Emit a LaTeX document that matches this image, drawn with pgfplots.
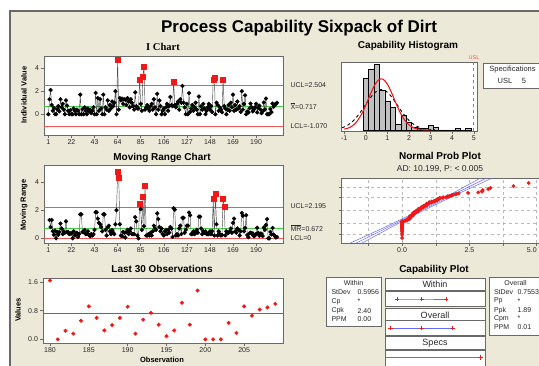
\documentclass[border=0pt]{standalone}
\usepackage{pgfplots}
\usepackage{pgfplotstable}
\pgfplotsset{compat=1.18}
\usepackage{fontspec}
\setmainfont{Liberation Sans}
\newfontfamily\titleserif{Liberation Serif}

\definecolor{panel}{RGB}{236,233,216}
\definecolor{edge}{RGB}{105,105,105}
\definecolor{limred}{RGB}{245,85,85}
\definecolor{ctrgreen}{RGB}{70,205,70}
\definecolor{ptred}{RGB}{240,25,25}
\definecolor{barfill}{RGB}{192,192,192}
\definecolor{fitblue}{RGB}{105,105,245}
\definecolor{linkgray}{RGB}{80,80,80}
\definecolor{txt}{RGB}{40,40,40}

\newcommand\fs[1]{\fontsize{#1}{#1}\selectfont}

% individual measurements (observation, value)
\pgfplotstableread[row sep=\\]{
obs val\\
1 0.00\\ 2 1.30\\ 3 2.10\\ 4 0.80\\ 5 0.30\\ 6 0.55\\ 7 0.00\\ 8 0.00\\ 9 0.45\\ 10 0.70\\
11 0.25\\ 12 1.30\\ 13 0.60\\ 14 0.90\\ 15 0.40\\ 16 0.00\\ 17 1.20\\ 18 0.75\\ 19 0.30\\ 20 0.00\\
21 0.35\\ 22 0.00\\ 23 0.00\\ 24 0.50\\ 25 0.30\\ 26 0.00\\ 27 0.40\\ 28 0.30\\ 29 0.00\\ 30 1.70\\
31 0.00\\ 32 0.45\\ 33 0.00\\ 34 0.60\\ 35 0.30\\ 36 0.00\\ 37 0.50\\ 38 0.25\\ 39 0.40\\ 40 0.10\\
41 0.30\\ 42 0.60\\ 43 0.00\\ 44 1.85\\ 45 0.00\\ 46 1.40\\ 47 0.30\\ 48 1.30\\ 49 0.50\\ 50 0.00\\
51 1.70\\ 52 0.00\\ 53 0.60\\ 54 0.40\\ 55 1.20\\ 56 0.30\\ 57 0.80\\ 58 0.50\\ 59 1.10\\ 60 0.70\\
61 1.00\\ 62 2.00\\ 63 0.00\\ 64 4.70\\ 65 0.40\\ 66 1.40\\ 67 1.20\\ 68 1.35\\ 69 0.90\\ 70 1.30\\
71 1.25\\ 72 0.80\\ 73 1.40\\ 74 1.10\\ 75 0.60\\ 76 1.30\\ 77 1.00\\ 78 0.70\\ 79 0.40\\ 80 1.90\\
81 0.70\\ 82 0.50\\ 83 0.50\\ 84 2.97\\ 85 0.90\\ 86 0.30\\ 87 3.28\\ 88 4.14\\ 89 0.40\\ 90 0.60\\
91 0.80\\ 92 0.50\\ 93 0.30\\ 94 0.70\\ 95 0.90\\ 96 0.40\\ 97 1.30\\ 98 0.60\\ 99 0.00\\ 100 1.77\\
101 0.40\\ 102 1.20\\ 103 0.70\\ 104 0.00\\ 105 0.30\\ 106 0.50\\ 107 0.00\\ 108 0.60\\ 109 0.90\\ 110 0.30\\
111 0.70\\ 112 1.50\\ 113 0.80\\ 114 0.70\\ 115 2.83\\ 116 0.80\\ 117 0.60\\ 118 0.90\\ 119 1.10\\ 120 0.40\\
121 1.30\\ 122 1.00\\ 123 2.45\\ 124 1.00\\ 125 0.60\\ 126 0.00\\ 127 0.90\\ 128 0.00\\ 129 1.83\\ 130 0.20\\
131 0.50\\ 132 0.80\\ 133 0.30\\ 134 0.60\\ 135 1.00\\ 136 0.40\\ 137 0.00\\ 138 1.54\\ 139 0.00\\ 140 0.70\\
141 0.40\\ 142 0.90\\ 143 0.50\\ 144 0.00\\ 145 0.30\\ 146 0.60\\ 147 0.90\\ 148 0.40\\ 149 0.70\\ 150 0.20\\
151 3.00\\ 152 3.20\\ 153 0.00\\ 154 1.00\\ 155 0.80\\ 156 0.30\\ 157 0.60\\ 158 0.40\\ 159 0.17\\ 160 2.97\\
161 0.71\\ 162 0.50\\ 163 0.00\\ 164 0.40\\ 165 0.80\\ 166 0.30\\ 167 1.00\\ 168 0.60\\ 169 1.70\\ 170 0.30\\
171 0.80\\ 172 0.40\\ 173 1.10\\ 174 0.50\\ 175 0.70\\ 176 0.20\\ 177 2.00\\ 178 0.40\\ 179 0.90\\ 180 1.64\\
181 0.00\\ 182 0.24\\ 183 0.16\\ 184 0.52\\ 185 0.92\\ 186 0.60\\ 187 0.25\\ 188 0.40\\ 189 0.60\\ 190 0.91\\
191 0.16\\ 192 0.55\\ 193 0.74\\ 194 0.41\\ 195 0.09\\ 196 0.25\\ 197 1.02\\ 198 0.41\\ 199 1.36\\ 200 0.00\\
201 0.00\\ 202 0.00\\ 203 0.46\\ 204 0.18\\ 205 0.92\\ 206 0.66\\ 207 0.83\\ 208 0.89\\ 209 0.99\\
}\idata

% moving ranges of two consecutive observations
\pgfplotstableread[row sep=\\]{
obs mr\\
2 1.30\\ 3 0.80\\ 4 1.30\\ 5 0.50\\ 6 0.25\\ 7 0.55\\ 8 0.00\\ 9 0.45\\ 10 0.25\\
11 0.45\\ 12 1.05\\ 13 0.70\\ 14 0.30\\ 15 0.50\\ 16 0.40\\ 17 1.20\\ 18 0.45\\ 19 0.45\\ 20 0.30\\
21 0.35\\ 22 0.35\\ 23 0.00\\ 24 0.50\\ 25 0.20\\ 26 0.30\\ 27 0.40\\ 28 0.10\\ 29 0.30\\ 30 1.70\\
31 1.70\\ 32 0.45\\ 33 0.45\\ 34 0.60\\ 35 0.30\\ 36 0.30\\ 37 0.50\\ 38 0.25\\ 39 0.15\\ 40 0.30\\
41 0.20\\ 42 0.30\\ 43 0.60\\ 44 1.85\\ 45 1.85\\ 46 1.40\\ 47 1.10\\ 48 1.00\\ 49 0.80\\ 50 0.50\\
51 1.70\\ 52 1.70\\ 53 0.60\\ 54 0.20\\ 55 0.80\\ 56 0.90\\ 57 0.50\\ 58 0.30\\ 59 0.60\\ 60 0.40\\
61 0.30\\ 62 1.00\\ 63 2.00\\ 64 4.70\\ 65 4.30\\ 66 1.00\\ 67 0.20\\ 68 0.15\\ 69 0.45\\ 70 0.40\\
71 0.05\\ 72 0.45\\ 73 0.60\\ 74 0.30\\ 75 0.50\\ 76 0.70\\ 77 0.30\\ 78 0.30\\ 79 0.30\\ 80 1.50\\
81 1.20\\ 82 0.20\\ 83 0.00\\ 84 2.47\\ 85 2.07\\ 86 0.60\\ 87 2.98\\ 88 0.86\\ 89 3.74\\ 90 0.20\\
91 0.20\\ 92 0.30\\ 93 0.20\\ 94 0.40\\ 95 0.20\\ 96 0.50\\ 97 0.90\\ 98 0.70\\ 99 0.60\\ 100 1.77\\
101 1.37\\ 102 0.80\\ 103 0.50\\ 104 0.70\\ 105 0.30\\ 106 0.20\\ 107 0.50\\ 108 0.60\\ 109 0.30\\ 110 0.60\\
111 0.40\\ 112 0.80\\ 113 0.70\\ 114 0.10\\ 115 2.13\\ 116 2.03\\ 117 0.20\\ 118 0.30\\ 119 0.20\\ 120 0.70\\
121 0.90\\ 122 0.30\\ 123 1.45\\ 124 1.45\\ 125 0.40\\ 126 0.60\\ 127 0.90\\ 128 0.90\\ 129 1.83\\ 130 1.63\\
131 0.30\\ 132 0.30\\ 133 0.50\\ 134 0.30\\ 135 0.40\\ 136 0.60\\ 137 0.40\\ 138 1.54\\ 139 1.54\\ 140 0.70\\
141 0.30\\ 142 0.50\\ 143 0.40\\ 144 0.50\\ 145 0.30\\ 146 0.30\\ 147 0.30\\ 148 0.50\\ 149 0.30\\ 150 0.50\\
151 2.80\\ 152 0.20\\ 153 3.20\\ 154 1.00\\ 155 0.20\\ 156 0.50\\ 157 0.30\\ 158 0.20\\ 159 0.23\\ 160 2.80\\
161 2.26\\ 162 0.21\\ 163 0.50\\ 164 0.40\\ 165 0.40\\ 166 0.50\\ 167 0.70\\ 168 0.40\\ 169 1.10\\ 170 1.40\\
171 0.50\\ 172 0.40\\ 173 0.70\\ 174 0.60\\ 175 0.20\\ 176 0.50\\ 177 1.80\\ 178 1.60\\ 179 0.50\\ 180 0.74\\
181 1.64\\ 182 0.24\\ 183 0.08\\ 184 0.36\\ 185 0.40\\ 186 0.32\\ 187 0.35\\ 188 0.15\\ 189 0.20\\ 190 0.31\\
191 0.75\\ 192 0.39\\ 193 0.19\\ 194 0.33\\ 195 0.32\\ 196 0.16\\ 197 0.77\\ 198 0.61\\ 199 0.95\\ 200 1.36\\
201 0.00\\ 202 0.00\\ 203 0.46\\ 204 0.28\\ 205 0.74\\ 206 0.26\\ 207 0.17\\ 208 0.06\\ 209 0.10\\
}\mrdata

% sorted values against normal scores
\pgfplotstableread[row sep=\\]{
x z\\
0 -2.71\\ 0 -2.40\\ 0 -2.23\\ 0 -2.10\\ 0 -2.01\\ 0 -1.93\\ 0 -1.85\\ 0 -1.79\\ 0 -1.73\\ 0 -1.68\\
0 -1.63\\ 0 -1.59\\ 0 -1.55\\ 0 -1.51\\ 0 -1.47\\ 0 -1.44\\ 0 -1.41\\ 0 -1.375\\ 0 -1.345\\ 0 -1.315\\
0 -1.29\\ 0 -1.26\\ 0 -1.235\\ 0 -1.21\\ 0 -1.185\\ 0 -1.16\\ 0 -1.14\\ 0 -1.115\\ 0 -1.095\\ 0 -1.07\\ 0 -1.05\\
0.09 -1.03\\ 0.10 -1.01\\ 0.16 -0.99\\ 0.16 -0.97\\ 0.17 -0.952\\ 0.18 -0.933\\ 0.20 -0.915\\ 0.20 -0.897\\ 0.20 -0.880\\
0.24 -0.862\\ 0.25 -0.845\\ 0.25 -0.828\\ 0.25 -0.811\\ 0.25 -0.794\\
0.30 -0.778\\ 0.30 -0.748\\ 0.30 -0.718\\ 0.30 -0.688\\ 0.30 -0.656\\ 0.30 -0.626\\ 0.30 -0.597\\ 0.30 -0.568\\ 0.30 -0.540\\
0.35 -0.526\\
0.40 -0.512\\ 0.40 -0.484\\ 0.40 -0.456\\ 0.40 -0.427\\ 0.40 -0.399\\ 0.40 -0.372\\ 0.40 -0.345\\ 0.40 -0.318\\ 0.40 -0.292\\
0.41 -0.279\\ 0.41 -0.267\\ 0.45 -0.254\\ 0.45 -0.242\\ 0.46 -0.230\\
0.50 -0.218\\ 0.50 -0.184\\ 0.50 -0.151\\ 0.50 -0.118\\ 0.50 -0.084\\
0.52 -0.072\\ 0.55 -0.060\\ 0.55 -0.048\\
0.60 -0.036\\ 0.60 -0.006\\ 0.60 0.023\\ 0.60 0.053\\ 0.60 0.083\\ 0.60 0.113\\ 0.60 0.144\\
0.66 0.156\\ 0.70 0.169\\ 0.70 0.202\\ 0.70 0.235\\ 0.70 0.263\\ 0.70 0.292\\
0.71 0.304\\ 0.74 0.316\\ 0.75 0.329\\
0.80 0.342\\ 0.80 0.370\\ 0.80 0.399\\ 0.80 0.429\\ 0.80 0.459\\
0.83 0.473\\ 0.89 0.485\\
0.90 0.499\\ 0.90 0.529\\ 0.90 0.559\\ 0.90 0.592\\ 0.90 0.625\\
0.91 0.640\\ 0.92 0.655\\ 0.92 0.668\\ 0.99 0.684\\
1.00 0.700\\ 1.00 0.731\\ 1.00 0.762\\ 1.00 0.793\\ 1.02 0.811\\
1.10 0.827\\ 1.10 0.844\\ 1.10 0.861\\ 1.10 0.878\\
1.20 0.897\\ 1.20 0.915\\ 1.20 0.934\\ 1.20 0.953\\ 1.25 0.971\\
1.30 0.990\\ 1.30 1.031\\ 1.30 1.074\\ 1.30 1.117\\
1.35 1.139\\ 1.36 1.162\\ 1.40 1.185\\ 1.40 1.210\\ 1.40 1.235\\ 1.50 1.262\\ 1.54 1.288\\ 1.64 1.316\\
1.70 1.346\\ 1.70 1.376\\ 1.70 1.407\\ 1.77 1.440\\ 1.83 1.474\\ 1.85 1.511\\ 1.90 1.550\\
2.00 1.591\\ 2.00 1.634\\ 2.10 1.681\\ 2.45 1.733\\ 2.83 1.790\\ 2.97 1.852\\ 2.97 1.923\\
3.00 2.007\\ 3.20 2.104\\ 3.28 2.226\\ 4.14 2.400\\ 4.70 2.710\\
}\npdata

\pgfplotsset{
  mini/.style={
    anchor=south west, scale only axis,
    axis background/.style={fill=white},
    axis line style={edge, line width=0.6pt},
    tick style={edge, line width=0.5pt},
    tick align=outside, major tick length=2.5pt, tick pos=left,
    ticklabel style={font=\fs{7}, text=txt},
    xticklabel style={yshift=1pt},
    yticklabel style={xshift=1pt},
    /pgf/number format/assume math mode=true,
  },
  limit/.style={limred, line width=0.8pt},
  centre/.style={ctrgreen, line width=0.8pt},
}

\begin{document}
\begin{tikzpicture}[x=1pt,y=1pt]
\useasboundingbox (0,0) rectangle (539,365);
\begin{scope}
\clip (0,0) rectangle (539,365);
\fill[white] (0,0) rectangle (539,365);
\fill[panel] (9,-5) rectangle (545,355);
\draw[edge, line width=1.6pt] (9.8,-5) -- (9.8,354.2) -- (545,354.2);

\node[anchor=base, font=\fs{17}\bfseries] at (299,332.5) {Process Capability Sixpack of Dirt};

% ---------- I chart ----------
\node[anchor=base, font=\titleserif\fs{10.5}\bfseries] at (163,314.3) {I Chart};
\begin{axis}[mini, at={(44pt,230pt)}, width=239pt, height=79pt,
  xmin=-3, xmax=214.5, ymin=-1.8, ymax=5.05,
  xtick={1,22,43,64,85,106,127,148,169,190}, ytick={0,2,4}]
  \addplot[limit] coordinates {(-3,2.504) (214.5,2.504)};
  \addplot[limit] coordinates {(-3,-1.070) (214.5,-1.070)};
  \addplot[centre] coordinates {(-3,0.717) (214.5,0.717)};
  \addplot[linkgray, line width=0.45pt, mark=*, mark size=1.9pt,
    mark options={black, fill=black}] table[x=obs, y=val] {\idata};
  \addplot[only marks, mark=square*, mark size=2.5pt, ptred]
    coordinates {(64,4.70) (84,2.97) (87,3.28) (88,4.14) (115,2.83) (151,3.00) (152,3.20) (160,2.97)};
\end{axis}
\node[rotate=90, font=\fs{7.5}\bfseries] at (24,270) {Individual Value};
\node[anchor=west, font=\fs{7}, text=txt] at (287,280) {UCL=2.504};
\node[anchor=west, font=\fs{7}, text=txt] at (287,259) {$\overline{\mbox{X}}$=0.717};
\node[anchor=west, font=\fs{7}, text=txt] at (287,238.5) {LCL=-1.070};

% ---------- Moving range chart ----------
\node[anchor=base, font=\fs{10}\bfseries] at (162,204.3) {Moving Range Chart};
\begin{axis}[mini, at={(44pt,122pt)}, width=239pt, height=78pt,
  xmin=-3, xmax=214.5, ymin=-0.33, ymax=5.2,
  xtick={1,22,43,64,85,106,127,148,169,190}, ytick={0,2,4}]
  \addplot[limit] coordinates {(-3,2.195) (214.5,2.195)};
  \addplot[limit] coordinates {(-3,0) (214.5,0)};
  \addplot[centre] coordinates {(-3,0.672) (214.5,0.672)};
  \addplot[linkgray, line width=0.45pt, mark=*, mark size=1.9pt,
    mark options={black, fill=black}] table[x=obs, y=mr] {\mrdata};
  \addplot[only marks, mark=square*, mark size=2.5pt, ptred]
    coordinates {(64,4.70) (65,4.30) (84,2.47) (87,2.98) (89,3.74) (151,2.80) (153,3.20) (160,2.80) (161,2.26)};
\end{axis}
\node[rotate=90, font=\fs{7.5}\bfseries] at (24,160) {Moving Range};
\node[anchor=west, font=\fs{7}, text=txt] at (287,158.7) {UCL=2.195};
\node[anchor=west, font=\fs{7}, text=txt] at (287,136.7) {$\overline{\mbox{MR}}$=0.672};
\node[anchor=west, font=\fs{7}, text=txt] at (287,126.5) {LCL=0};

% ---------- Last 30 observations ----------
\node[anchor=base, font=\fs{10}\bfseries] at (162,92.3) {Last 30 Observations};
\begin{axis}[mini, at={(43pt,22pt)}, width=240pt, height=65pt,
  xmin=179.1, xmax=210, ymin=-0.1, ymax=1.71,
  xtick={180,185,190,195,200,205}, ytick={0,0.8,1.6}, yticklabels={0.0,0.8,1.6}]
  \addplot[edge, line width=0.6pt] coordinates {(179.1,0.717) (210,0.717)};
  \addplot[only marks, mark=*, mark size=1.8pt, ptred]
    table[x=obs, y=val, restrict x to domain=180:209] {\idata};
\end{axis}
\node[rotate=90, font=\fs{7.5}\bfseries] at (18,55) {Values};
\node[anchor=base, font=\fs{7.5}\bfseries] at (162,2.6) {Observation};

% ---------- Capability histogram ----------
\node[anchor=base, font=\fs{10}\bfseries] at (408,316.3) {Capability Histogram};
\begin{axis}[mini, at={(341pt,234pt)}, width=136pt, height=69pt,
  xmin=-1.15, xmax=5.15, ymin=-0.7, ymax=46.4,
  xtick={-1,0,1,2,3,4,5}, ytick=\empty]
  \addplot[ybar interval, fill=barfill, draw=black, line width=0.4pt] coordinates {
    (-0.125,35) (0.125,41.5) (0.375,44.6) (0.625,27) (0.875,19.5) (1.125,15.5)
    (1.375,4) (1.625,10) (1.875,5) (2.125,2) (2.375,1) (2.625,1) (2.875,3)
    (3.125,2) (3.375,0) (3.625,0) (3.875,0) (4.125,1) (4.375,0) (4.625,1) (4.875,0)};
  \addplot[black, dashed, line width=0.9pt, smooth] coordinates {
    (-1.1,1.60) (-1.0,2.08) (-0.8,3.67) (-0.6,6.03) (-0.4,9.25) (-0.2,13.21) (0.0,17.59)
    (0.2,21.83) (0.4,25.27) (0.6,27.27) (0.8,27.43) (1.0,25.73) (1.2,22.50) (1.4,18.34)
    (1.6,13.94) (1.8,9.87) (2.0,6.52) (2.2,4.01) (2.4,2.30) (2.6,1.23) (2.8,0.62)
    (3.0,0.29) (3.2,0.12)};
  \addplot[ptred, line width=1.1pt, smooth] coordinates {
    (-1.0,0.55) (-0.8,1.37) (-0.6,3.04) (-0.4,6.03) (-0.2,10.70) (0.0,16.96)
    (0.2,24.01) (0.4,30.38) (0.6,34.33) (0.8,34.66) (1.0,31.26) (1.2,25.19)
    (1.4,18.13) (1.6,11.66) (1.8,6.70) (2.0,3.44) (2.2,1.58) (2.4,0.65)
    (2.6,0.24) (2.8,0.08) (3.0,0.02)};
  \addplot[limred, dashed, line width=0.6pt] coordinates {(5,-0.7) (5,46.4)};
\end{axis}
\node[font=\fs{5.5}, text=limred] at (474,307) {USL};
\filldraw[fill=white, draw=edge, line width=0.6pt] (483.3,301.7) rectangle (545,276.7);
\node[font=\fs{7.5}, text=txt] at (512.5,295.7) {Specifications};
\node[font=\fs{7.5}, text=txt] at (505,284.2) {USL};
\node[font=\fs{7.5}, text=txt] at (524,284.2) {5};

% ---------- Normal probability plot ----------
\node[anchor=base, font=\fs{10}\bfseries] at (440,205) {Normal Prob Plot};
\node[anchor=base, font=\fs{8.5}, text=txt] at (440,193.7) {AD: 10.199, P: < 0.005};
\begin{axis}[mini, at={(341pt,122pt)}, width=200pt, height=65pt,
  xmin=-2.27, xmax=5.16, ymin=-3.2, ymax=3.2,
  xtick={-1.25,0,1.25,2.5,3.75,5},
  xticklabels={,0.0,,2.5,,\makebox[0pt][r]{5.0}\hspace{3pt}},
  ytick={-2.326,-1.2816,0,1.2816,2.326}, yticklabels={,,,,},
  grid=major, grid style={dashed, gray!55, line width=0.4pt}]
  \addplot[fitblue, line width=0.5pt] coordinates {(-1.700,-3.2) (3.134,3.2)};
  \addplot[fitblue, line width=0.5pt, smooth] coordinates {(-1.92,-3.2) (-0.61,-1.6) (0.637,0) (1.805,1.6) (2.914,3.2)};
  \addplot[fitblue, line width=0.5pt, smooth] coordinates {(-1.48,-3.2) (-0.37,-1.6) (0.797,0) (2.045,1.6) (3.354,3.2)};
  \addplot[only marks, mark=*, mark size=1.7pt, ptred] table[x=x, y=z] {\npdata};
\end{axis}

% ---------- Capability plot ----------
\node[anchor=base, font=\fs{10}\bfseries] at (434,92.7) {Capability Plot};
\filldraw[fill=white, draw=edge, line width=0.6pt] (326,87.3) rectangle (381.7,39);
\node[font=\fs{7}, text=txt] at (353.5,81.7) {Within};
\begin{scope}[every node/.style={anchor=west, font=\fs{7}, text=txt}]
  \node at (328,72.5) {StDev}; \node at (354,72.5) {0.5956};
  \node at (328,63.5) {Cp};    \node at (354,63.5) {*};
  \node at (328,54)   {Cpk};   \node at (354,54)   {2.40};
  \node at (328,45.5) {PPM};   \node at (354,45.5) {0.00};
\end{scope}
\filldraw[fill=white, draw=edge, line width=0.6pt] (489,87.3) rectangle (545,30);
\node[font=\fs{7}, text=txt] at (515.5,81.7) {Overall};
\begin{scope}[every node/.style={anchor=west, font=\fs{7}, text=txt}]
  \node at (490.5,72.5) {StDev}; \node at (514,72.5) {0.7553};
  \node at (490.5,64)   {Pp};    \node at (514,64)   {*};
  \node at (490.5,54.5) {Ppk};   \node at (514,54.5) {1.89};
  \node at (490.5,46.5) {Cpm};   \node at (514,46.5) {*};
  \node at (490.5,37.5) {PPM};   \node at (514,37.5) {0.01};
\end{scope}
\begin{scope}[fill=white, draw=edge, line width=0.6pt]
  \filldraw (385.7,86.7) rectangle (485,75);
  \filldraw (385.7,74) rectangle (485,58.3);
  \filldraw (385.7,56.7) rectangle (485,45);
  \filldraw (385.7,44.3) rectangle (485,30);
  \filldraw (385.7,28.3) rectangle (485,15.7);
  \filldraw (385.7,14.3) rectangle (485,-5);
\end{scope}
\node[font=\fs{9}, text=txt] at (435,80.7) {Within};
\node[font=\fs{9}, text=txt] at (435,50) {Overall};
\node[font=\fs{9}, text=txt] at (435,21.7) {Specs};
\begin{axis}[anchor=south west, at={(385.7pt,0pt)}, scale only axis,
  width=99.3pt, height=87pt, xmin=-1.911, xmax=5.337, ymin=0, ymax=87,
  axis lines=none, clip=false]
  \addplot[fitblue, line width=0.9pt, mark=+, mark size=2.2pt,
    mark options={ptred, line width=0.7pt}] coordinates {(-1.070,66) (0.717,66) (2.504,66)};
  \addplot[fitblue, line width=0.9pt, mark=+, mark size=2.2pt,
    mark options={ptred, line width=0.7pt}] coordinates {(-1.549,36.7) (0.717,36.7) (2.983,36.7)};
  \addplot[fitblue, line width=0.9pt] coordinates {(-1.911,7.7) (5,7.7)};
  \addplot[only marks, mark=+, mark size=2.2pt, ptred, line width=0.7pt] coordinates {(5,7.7)};
\end{axis}
\end{scope}
\end{tikzpicture}
\end{document}
